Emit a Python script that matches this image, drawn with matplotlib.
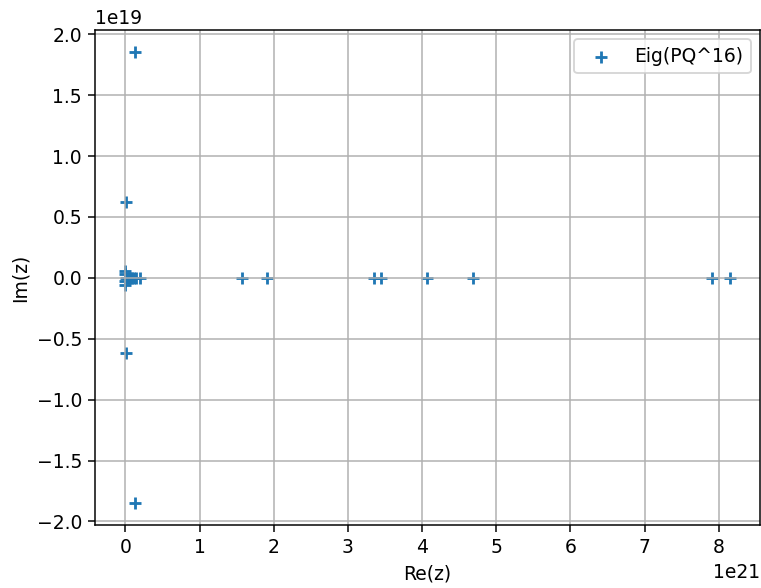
import numpy as np
import matplotlib
matplotlib.use("Agg")
import matplotlib.pyplot as plt

# eigenvalues, real part in units of 1e21, imaginary part in units of 1e19
re_vals = [0.13, 0.13, 0.01, 0.01,
           0.0, 0.0, 0.0, 0.0, 0.01, 0.03, 0.05, 0.07, 0.09, 0.11, 0.14, 0.2,
           1.57, 1.91, 3.35, 3.44, 4.06, 4.69, 7.91, 8.15]
im_vals = [1.85, -1.845, 0.62, -0.62,
           0.06, -0.06, 0.03, -0.03, 0.0, 0.0, 0.0, 0.0, 0.0, 0.0, 0.0, 0.0,
           0.0, 0.0, 0.0, 0.0, 0.0, 0.0, 0.0, 0.0]

re = np.array(re_vals) * 1e21
im = np.array(im_vals) * 1e19

DPI = 135
fig, ax = plt.subplots(figsize=(761 / DPI, 588 / DPI), dpi=DPI)
fig.subplots_adjust(left=0.125, right=0.999, top=0.949, bottom=0.107)

ax.scatter(re, im, marker="+", label="Eig(PQ^16)")
ax.set_xlabel("Re(z)")
ax.set_ylabel("Im(z)")
ax.grid(True)
ax.legend(loc="upper right")

fig.savefig("out.png", dpi=DPI)
